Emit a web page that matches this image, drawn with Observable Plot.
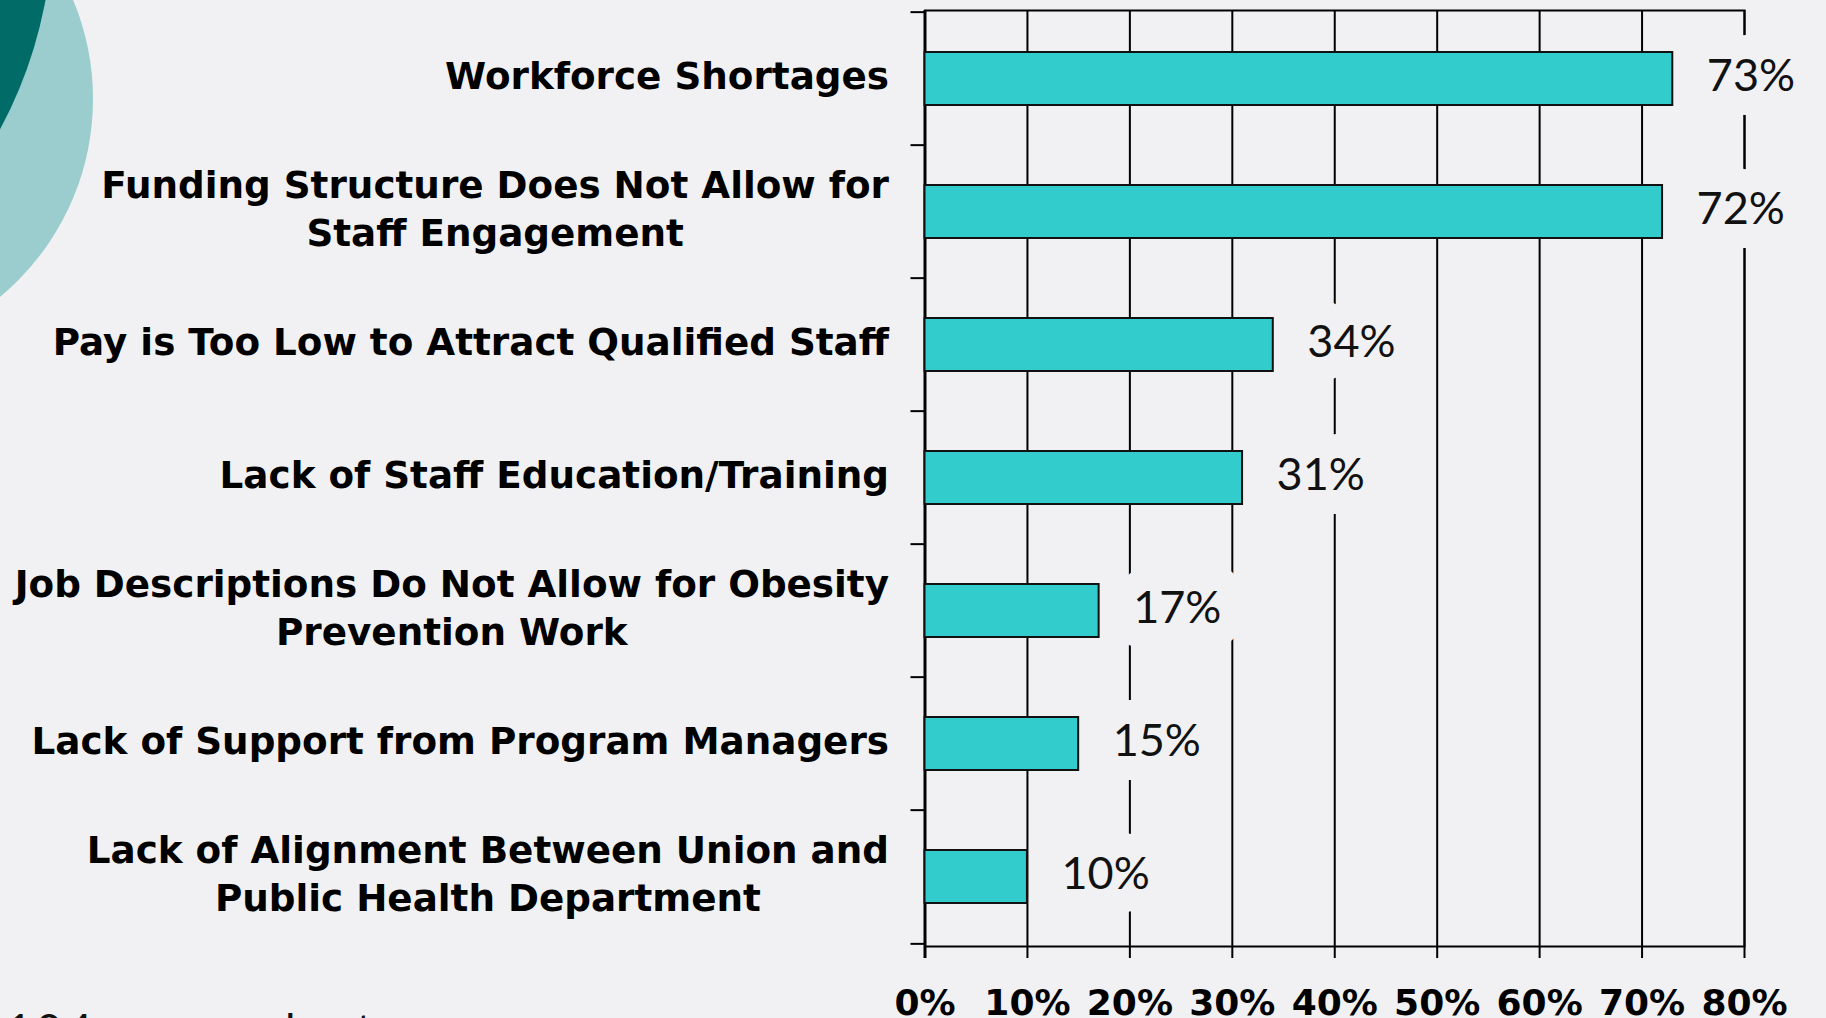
<!DOCTYPE html>
<html><head><meta charset="utf-8">
<script src="https://cdn.jsdelivr.net/npm/d3@7"></script>
<script src="https://cdn.jsdelivr.net/npm/@observablehq/plot@0.6"></script>
<style>
html,body{margin:0;padding:0;background:#f1f1f3;width:1826px;height:1018px;overflow:hidden;}
#wrap{position:relative;width:1826px;height:1018px;overflow:hidden;}
.circ{position:absolute;border-radius:50%;}
#c1{background:#9bcdcf;left:-421px;top:-158px;width:514px;height:514px;}
#c2{background:#006b67;left:-835px;top:-525px;width:888px;height:888px;}
#chart{position:absolute;left:0;top:0;}
#note{position:absolute;left:6px;top:1007px;font-family:Lato,sans-serif;font-weight:400;font-size:45px;letter-spacing:4px;line-height:1;white-space:nowrap;color:#111;}
g[aria-label="value labels"] text{letter-spacing:4px;}
</style>
</head><body>
<div id="wrap">
  <div class="circ" id="c1"></div>
  <div class="circ" id="c2"></div>
  <div id="chart"></div>
  <div id="note"></div>
</div>
<script>
const categories = [
  "Workforce Shortages",
  "Funding Structure Does Not Allow for\nStaff Engagement",
  "Pay is Too Low to Attract Qualified Staff",
  "Lack of Staff Education/Training",
  "Job Descriptions Do Not Allow for Obesity\nPrevention Work",
  "Lack of Support from Program Managers",
  "Lack of Alignment Between Union and\nPublic Health Department"
];
const values = [73, 72, 34, 31, 17, 15, 10];
const xTicks = [0, 10, 20, 30, 40, 50, 60, 70, 80];
const noteText = "104 respondents";

const data = categories.map((cat, i) => ({cat, value: values[i]}));

const W = 1826, H = 1018;
const mL = 924.5, mR = 82, mT = 10, mB = 72;
const step = (H - mT - mB) / categories.length;

const catFont = "'DejaVu Sans', Verdana, sans-serif";
const catSize = 37.3;
const ctx = document.createElement("canvas").getContext("2d");
ctx.font = `bold ${catSize}px ${catFont}`;
const blockW = categories.map(c => Math.max(...c.split("\n").map(l => ctx.measureText(l).width)));
const gap = 36;

const labelMarks = categories.map((c, i) =>
  Plot.text([c], {
    y: d => d,
    frameAnchor: "left",
    dx: -(gap + blockW[i] / 2),
    dy: -5,
    textAnchor: "middle",
    lineAnchor: "middle",
    lineHeight: 1.29,
    fontSize: catSize,
    fontWeight: "bold",
    fontFamily: catFont,
    fill: "#000"
  })
);

const chart = Plot.plot({
  width: W,
  height: H,
  marginLeft: mL,
  marginRight: mR,
  marginTop: mT,
  marginBottom: mB,
  style: {background: "transparent", fontFamily: catFont, overflow: "visible"},
  x: {domain: [0, 80], axis: null, label: null},
  y: {domain: categories, paddingInner: 0.6, paddingOuter: 0.3, axis: null, label: null},
  marks: [
    Plot.ruleX(xTicks, {x: d => d, stroke: "#000", strokeWidth: 2, insetBottom: -12}),
    Plot.ruleY(categories, {y: d => d, x1: 0, x2: 0, insetLeft: -14, dy: -step / 2, stroke: "#000", strokeWidth: 2}),
    Plot.ruleY(categories.slice(-1), {y: d => d, x1: 0, x2: 0, insetLeft: -14, dy: step / 2, stroke: "#000", strokeWidth: 2}),
    Plot.frame({stroke: "#000", strokeWidth: 2}),
    Plot.ruleX([0], {x: d => d, stroke: "#000", strokeWidth: 3, insetBottom: -12}),
    Plot.barX(data, {x: "value", y: "cat", fill: "#33cccc", stroke: "#111", strokeWidth: 2}),
    Plot.text(data, {
      x: "value", y: "cat", text: d => d.value + "%",
      textAnchor: "start", dx: 34, dy: -2,
      fill: "#111", stroke: "#f1f1f3", strokeWidth: 48,
      fontSize: 45, fontFamily: "Lato, sans-serif", fontWeight: 400,
      ariaLabel: "value labels"
    }),
    ...labelMarks,
    Plot.axisX(xTicks, {
      tickSize: 0, tickPadding: 43, label: null,
      tickFormat: d => d + "%",
      fontSize: 36, fontWeight: "bold", fontFamily: catFont, fill: "#000"
    })
  ]
});
document.getElementById("chart").appendChild(chart);
document.getElementById("note").textContent = noteText;
</script>
</body></html>
